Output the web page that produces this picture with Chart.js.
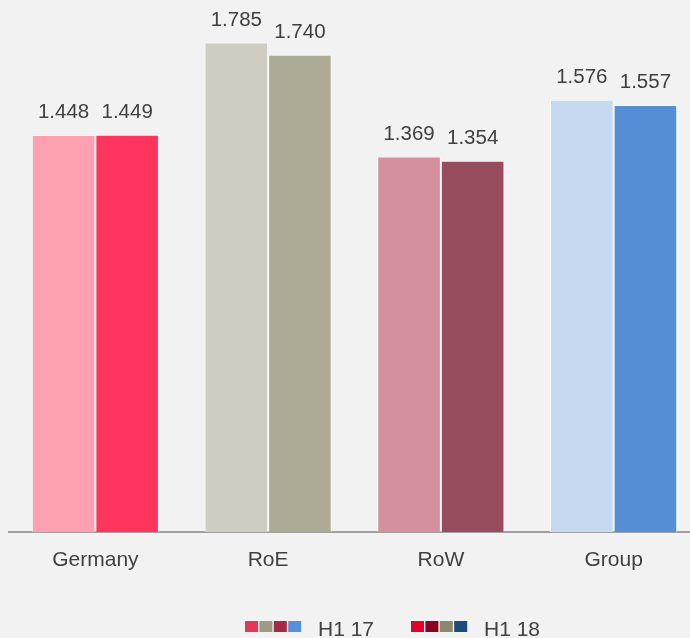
<!DOCTYPE html>
<html>
<head>
<meta charset="utf-8">
<script src="https://cdn.jsdelivr.net/npm/chart.js@4/dist/chart.umd.min.js"></script>
<style>
  html, body { margin: 0; padding: 0; background: #F2F2F2; overflow: hidden; }
  #wrap { width: 700px; height: 638px; position: relative; }
</style>
</head>
<body>
<div id="wrap"><canvas id="chart"></canvas></div>
<script>
/* ── Dados ── */
const CATEGORIES = ['Germany', 'RoE', 'RoW', 'Group'];
const H1_17 = [1.448, 1.785, 1.369, 1.576];
const H1_18 = [1.449, 1.740, 1.354, 1.557];

/* ── Cores por região ── */
const COLORS_17 = ['#FFA0B1', '#CFCDC1', '#D4909D', '#C6D9F1'];
const COLORS_18 = ['#FF355E', '#ADAA96', '#964C5C', '#558ED5'];
const LEGEND_17 = ['#E8365A', '#A09A84', '#A52A45', '#5590D8'];
const LEGEND_18 = ['#E4002B', '#8C0020', '#8C886E', '#1F4A7E'];

const TEXT = '#404040';
const FONT = 'Liberation Sans, Arial, sans-serif';

/* ── Rótulos de valor ── */
const valueLabels = {
  id: 'valueLabels',
  afterDatasetsDraw(chart) {
    const ctx = chart.ctx;
    ctx.save();
    ctx.fillStyle = TEXT;
    ctx.font = '20.5px ' + FONT;
    ctx.textAlign = 'center';
    ctx.textBaseline = 'alphabetic';
    chart.data.datasets.forEach((ds, i) => {
      chart.getDatasetMeta(i).data.forEach((bar, j) => {
        ctx.fillText(ds.data[j].toFixed(3), bar.x, bar.y - 17);
      });
    });
    ctx.restore();
  }
};

/* ── Rótulos do eixo X ── */
const catTicks = {
  id: 'catTicks',
  afterDraw(chart) {
    const ctx = chart.ctx;
    const xs = chart.scales.x;
    ctx.save();
    ctx.fillStyle = TEXT;
    ctx.font = '21px ' + FONT;
    ctx.textAlign = 'center';
    ctx.textBaseline = 'alphabetic';
    chart.data.labels.forEach((lab, i) => {
      ctx.fillText(lab, xs.getPixelForTick(i), 566);
    });
    ctx.restore();
  }
};

/* ── Legenda com várias caixinhas ── */
const multiLegend = {
  id: 'multiLegend',
  afterDraw(chart) {
    const ctx = chart.ctx;
    const entries = [
      { label: 'H1 17', colors: LEGEND_17, x: 245 },
      { label: 'H1 18', colors: LEGEND_18, x: 411 },
    ];
    ctx.save();
    ctx.font = '21px ' + FONT;
    ctx.textBaseline = 'alphabetic';
    entries.forEach(e => {
      e.colors.forEach((c, k) => {
        ctx.fillStyle = c;
        ctx.fillRect(e.x + k * 14.4, 621, 13, 11);
      });
      ctx.fillStyle = TEXT;
      ctx.textAlign = 'left';
      ctx.fillText(e.label, e.x + 73, 636);
    });
    ctx.restore();
  }
};

new Chart(document.getElementById('chart'), {
  type: 'bar',
  data: {
    labels: CATEGORIES,
    datasets: [
      { label: 'H1 17', data: H1_17, backgroundColor: COLORS_17 },
      { label: 'H1 18', data: H1_18, backgroundColor: COLORS_18 },
    ],
  },
  options: {
    responsive: true,
    maintainAspectRatio: false,
    animation: false,
    events: [],
    layout: { padding: { left: 9, right: 0, top: 0, bottom: 0 } },
    datasets: {
      bar: {
        categoryPercentage: 0.736,
        barPercentage: 1,
        borderWidth: 1,
        borderColor: 'rgba(255,255,255,0.55)',
      },
    },
    plugins: { legend: { display: false }, tooltip: { enabled: false } },
    scales: {
      y: { display: false, min: 0, max: 1.94 },
      x: {
        grid: { display: false, drawTicks: false },
        border: { color: '#A0A0A0', width: 2 },
        ticks: { display: false },
        afterFit: s => { s.height = 106; },
      },
    },
  },
  plugins: [valueLabels, catTicks, multiLegend],
});
</script>
</body>
</html>
